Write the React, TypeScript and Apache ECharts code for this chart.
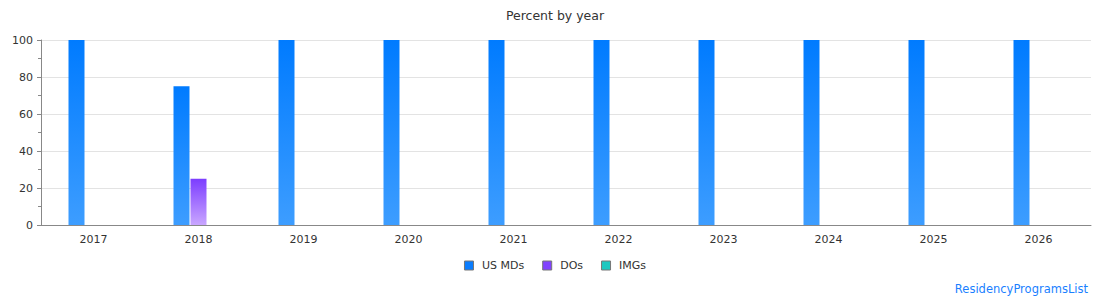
import React, { useEffect, useRef } from "react";
import * as echarts from "echarts";

const years = ["2017", "2018", "2019", "2020", "2021", "2022", "2023", "2024", "2025", "2026"];
const usMDs = [100, 75, 100, 100, 100, 100, 100, 100, 100, 100];
const dos = [0, 25, 0, 0, 0, 0, 0, 0, 0, 0];
const imgs = [0, 0, 0, 0, 0, 0, 0, 0, 0, 0];

const FONT = "DejaVu Sans, Verdana, sans-serif";

function grad(top: string, bottom: string) {
  return new echarts.graphic.LinearGradient(0, 0, 0, 1, [
    { offset: 0, color: top },
    { offset: 1, color: bottom },
  ]);
}

export default function App() {
  const ref = useRef<HTMLDivElement>(null);
  useEffect(() => {
    if (!ref.current) return;
    const chart = echarts.init(ref.current, null, { renderer: "svg" });
    const barCommon = {
      type: "bar" as const,
      barWidth: 16,
      barGap: "6.25%",
    };
    chart.setOption({
      animation: false,
      textStyle: { fontFamily: FONT },
      title: {
        text: "Percent by year",
        left: "center",
        top: 4,
        textStyle: { fontSize: 12.5, fontWeight: "normal", color: "#333", fontFamily: FONT },
      },
      legend: {
        top: 255,
        left: "center",
        itemWidth: 9,
        itemHeight: 9,
        itemGap: 18,
        icon: "rect",
        formatter: " {name}",
        textStyle: { fontSize: 11, color: "#333", fontFamily: FONT },
        data: [
          { name: "US MDs", itemStyle: { color: "#0a7dff", borderColor: "#777", borderWidth: 1 } },
          { name: "DOs", itemStyle: { color: "#8142ff", borderColor: "#777", borderWidth: 1 } },
          { name: "IMGs", itemStyle: { color: "#1ec8c0", borderColor: "#777", borderWidth: 1 } },
        ],
      },
      grid: { left: 41, right: 19, top: 40, bottom: 75, containLabel: false },
      xAxis: {
        type: "category",
        data: years,
        axisLine: { lineStyle: { color: "#888" } },
        axisTick: { show: false },
        axisLabel: { fontSize: 11, color: "#333", margin: 9, fontFamily: FONT },
      },
      yAxis: {
        type: "value",
        min: 0,
        max: 100,
        interval: 20,
        axisLine: { show: true, lineStyle: { color: "#888" } },
        axisTick: { show: true, length: 4, lineStyle: { color: "#888" } },
        minorTick: { show: true, splitNumber: 2, length: 3, lineStyle: { color: "#888" } },
        splitLine: { lineStyle: { color: "#e3e3e3" } },
        axisLabel: { fontSize: 11, color: "#333", margin: 8, fontFamily: FONT },
      },
      series: [
        { ...barCommon, name: "US MDs", data: usMDs, itemStyle: { color: grad("#007bff", "#3d9dff") } },
        { ...barCommon, name: "DOs", data: dos, itemStyle: { color: grad("#7c3dff", "#c9a6ff") } },
        { ...barCommon, name: "IMGs", data: imgs, itemStyle: { color: grad("#17c3bb", "#7fe3de") } },
      ],
      graphic: [
        {
          type: "text",
          right: 22,
          top: 283,
          style: { text: "ResidencyProgramsList", fill: "#1a7fff", fontSize: 11.5, fontFamily: FONT },
        },
      ],
    });
    return () => chart.dispose();
  }, []);
  return (
    <div
      ref={ref}
      style={{ position: "absolute", left: 0, top: 0, width: 1110, height: 300 }}
    />
  );
}
